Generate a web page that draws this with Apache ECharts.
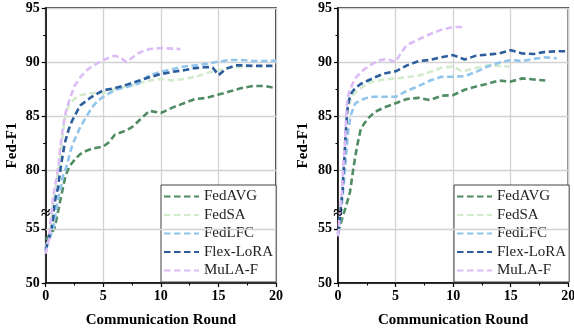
<!DOCTYPE html>
<html>
<head>
<meta charset="utf-8">
<script src="https://cdn.jsdelivr.net/npm/echarts@6.0.0/dist/echarts.min.js"></script>
<style>
html,body{margin:0;padding:0;background:#fff;}
#main{width:574px;height:333px;}
</style>
</head>
<body>
<div id="main"></div>
<script>
// ---- data (round, Fed-F1) ----
const methods = ['FedAVG', 'FedSA', 'FedLFC', 'Flex-LoRA', 'MuLA-F'];
const colors = ['#4f8c63', '#d3ebcd', '#92c5ec', '#2c5d9c', '#dcbcf7'];

const yTicks = [50, 55, 80, 85, 90, 95];
const xTicks = [0, 5, 10, 15, 20];
const breakStart = 55;
const breakEnd = 74.6;
const breakMarkValue = 76;

// left panel
const leftFedAVG = [[0,54.0],[0.75,55.0],[0.92,75.4],[1.13,76.5],[1.3,77.4],[1.5,78.4],[1.72,79.5],[2.08,80.4],[2.6,81.1],[3,81.5],[3.5,81.8],[4,82.0],[5,82.2],[5.5,82.6],[6,83.3],[7,83.7],[7.5,84.0],[8,84.5],[9,85.5],[10,85.3],[11,85.8],[12,86.2],[13,86.6],[14,86.7],[15,87.0],[16,87.3],[17,87.6],[18,87.8],[19,87.8],[20,87.6]];
const leftFedSA = [[0,53.2],[0.42,55.0],[0.5,75.4],[0.6,76.5],[0.7,77.4],[0.85,78.4],[1.02,79.5],[1.18,80.6],[1.3,81.6],[1.42,82.8],[1.6,84.3],[1.8,85.4],[2,86.0],[2.5,86.6],[3,86.95],[4,87.15],[5,87.15],[6,87.5],[7,87.75],[8,88.0],[9,88.3],[10,88.45],[11,88.3],[12,88.45],[13,88.65],[14,89.0],[15,89.25],[16,89.5],[17,89.55],[17.5,89.55]];
const leftFedLFC = [[0,53.2],[0.65,55.0],[0.78,75.4],[0.92,76.5],[1.07,77.4],[1.3,78.4],[1.5,79.5],[1.88,80.6],[2.08,81.55],[2.37,82.5],[3,84.0],[3.5,84.9],[4,85.8],[4.5,86.4],[5,86.8],[6,87.4],[7,87.7],[8,88.0],[9,88.8],[10,89.1],[11,89.35],[12,89.6],[13,89.7],[14,89.85],[15,90.05],[16,90.2],[17,90.2],[18,90.1],[19,90.1],[20,90.15]];
const leftFlexLoRA = [[0,53.0],[0.5,55.0],[0.63,75.4],[0.72,76.5],[0.84,77.4],[1.07,78.4],[1.2,79.5],[1.35,80.6],[1.5,81.55],[1.65,82.5],[2,83.8],[2.3,84.6],[3,86.0],[4,86.8],[5,87.4],[6,87.6],[7,87.9],[8,88.25],[9,88.6],[10,88.9],[11,89.1],[12,89.25],[13,89.45],[14,89.55],[14.5,89.5],[15,88.8],[15.7,89.4],[16.5,89.7],[17,89.7],[18,89.65],[19,89.65],[20,89.65]];
const leftMuLAF = [[0,52.7],[0.29,54.1],[0.36,55.0],[0.43,75.4],[0.55,76.5],[0.63,77.4],[0.78,78.4],[0.98,79.5],[1.13,80.6],[1.25,82.0],[1.5,84.0],[1.75,85.4],[2,86.3],[2.5,87.8],[3,88.6],[3.5,89.2],[4,89.6],[4.5,89.9],[5,90.2],[5.5,90.4],[6,90.6],[6.5,90.4],[7,90.0],[7.5,90.4],[8,90.8],[8.5,91.05],[9,91.2],[10,91.3],[11,91.25],[11.7,91.2]];

// right panel
const rightFedAVG = [[0,54.6],[0.1,55.0],[0.32,75.4],[0.52,76.1],[0.75,76.9],[1.04,78.0],[1.19,79.1],[1.35,80.3],[1.65,82.2],[1.95,83.7],[2.25,84.3],[2.7,84.9],[3.2,85.4],[4,85.8],[5,86.2],[6,86.6],[7,86.7],[8,86.5],[9,86.9],[10,86.95],[11,87.45],[12,87.75],[13,88.0],[14,88.3],[15,88.2],[16,88.5],[17,88.4],[18,88.3]];
const rightFedSA = [[0,54.5],[0.1,55.0],[0.14,75.4],[0.22,76.1],[0.31,77.2],[0.4,78.1],[0.46,79.5],[0.6,82.5],[0.75,84.8],[0.9,85.8],[1.2,86.8],[1.5,87.2],[2,87.6],[2.5,88.0],[3,88.2],[3.5,88.3],[4,88.4],[5,88.5],[6,88.6],[7,88.75],[8,89.1],[9,89.5],[10,89.6],[10.7,89.2],[11,89.2],[12,89.45],[13,89.7],[14,89.65],[14.9,89.6]];
const rightFedLFC = [[0,54.5],[0.12,55.0],[0.18,75.4],[0.26,76.1],[0.36,77.2],[0.45,78.1],[0.52,79.0],[0.75,82.0],[0.9,83.8],[1.1,85.1],[1.5,86.2],[2,86.5],[2.5,86.7],[3,86.8],[4,86.8],[5,86.8],[6,87.35],[7,87.8],[8,88.3],[9,88.65],[10,88.65],[11,88.7],[12,89.1],[13,89.6],[14,89.95],[15,90.2],[16,90.1],[17,90.3],[18,90.45],[19,90.35]];
const rightFlexLoRA = [[0,54.6],[0.08,55.0],[0.13,75.4],[0.2,76.1],[0.3,77.2],[0.4,78.1],[0.45,79.4],[0.52,80.5],[0.65,83.0],[0.8,85.5],[0.95,86.5],[1.2,87.2],[1.5,87.6],[2,88.0],[3,88.5],[4,88.95],[5,89.15],[6,89.7],[7,90.1],[8,90.2],[9,90.45],[10,90.65],[11,90.25],[12,90.6],[13,90.7],[14,90.8],[15,91.1],[16,90.8],[17,90.75],[18,90.95],[19,91.0],[20,91.0]];
const rightMuLAF = [[0,54.3],[0.06,55.0],[0.1,75.4],[0.17,76.1],[0.26,77.2],[0.35,78.1],[0.4,79.4],[0.46,80.3],[0.52,81.4],[0.6,82.3],[0.7,84.8],[0.8,86.5],[1.0,87.4],[1.5,88.5],[2,89.1],[2.5,89.5],[3,89.85],[3.5,90.15],[4,90.25],[4.5,90.2],[5,90.0],[5.5,90.9],[6,91.6],[7,92.1],[8,92.6],[9,93.0],[10,93.25],[10.8,93.25]];

const leftData = [leftFedAVG, leftFedSA, leftFedLFC, leftFlexLoRA, leftMuLAF];
const rightData = [rightFedAVG, rightFedSA, rightFedLFC, rightFlexLoRA, rightMuLAF];

// ---- chart ----
const FONT = 'Liberation Serif, Times New Roman, serif';
const GRID_GRAY = '#d2d2d2';
const chart = echarts.init(document.getElementById('main'));

function xAxisCfg(gi) {
  return {
    type: 'value', gridIndex: gi, min: 0, max: 20, interval: 5,
    name: 'Communication Round', nameLocation: 'middle', nameGap: 30,
    nameTextStyle: {fontFamily: FONT, fontWeight: 'bold', fontSize: 15, color: '#000'},
    axisLine: {show: true, onZero: false, lineStyle: {color: '#000', width: 1.5}},
    axisTick: {show: true, inside: false, length: 4, lineStyle: {color: '#000', width: 1.2}},
    minorTick: {show: true, splitNumber: 2, length: 2.5, lineStyle: {color: '#000', width: 1}},
    splitLine: {show: true, lineStyle: {color: GRID_GRAY, width: 1.3}},
    axisLabel: {fontFamily: FONT, fontWeight: 'bold', fontSize: 14, color: '#000', margin: 6, hideOverlap: false,
      formatter: v => (xTicks.indexOf(v) >= 0 ? String(v) : '')}
  };
}
function yAxisCfg(gi, gap) {
  return {
    type: 'value', gridIndex: gi, min: 50, max: 95, interval: 5,
    breaks: [{start: breakStart, end: breakEnd, gap: 0}],
    breakArea: {show: false},
    breakLabelLayout: {moveOverlap: false},
    name: 'Fed-F1', nameLocation: 'middle', nameGap: gap, nameRotate: 90,
    nameTextStyle: {fontFamily: FONT, fontWeight: 'bold', fontSize: 15, color: '#000'},
    axisLine: {show: true, lineStyle: {color: '#000', width: 1.5}},
    axisTick: {show: true, inside: false, length: 4, lineStyle: {color: '#000', width: 1.2}},
    minorTick: {show: true, splitNumber: 2, length: 2.5, lineStyle: {color: '#000', width: 1}},
    splitLine: {show: true, lineStyle: {color: GRID_GRAY, width: 1.3}},
    axisLabel: {fontFamily: FONT, fontWeight: 'bold', fontSize: 14, color: '#000', margin: 6, hideOverlap: false,
      showMinLabel: true, showMaxLabel: true,
      formatter: v => (yTicks.indexOf(Math.round(v * 100) / 100) >= 0 ? String(Math.round(v)) : '')}
  };
}
function legendCfg(left) {
  return {
    orient: 'vertical', left: left, top: 185,
    data: methods,
    itemWidth: 35, itemHeight: 14, itemGap: 3.5,
    padding: [4, 3, 4, 2],
    backgroundColor: '#fff', borderColor: '#444', borderWidth: 1,
    selectedMode: false,
    itemStyle: {opacity: 0},
    textStyle: {fontFamily: FONT, fontSize: 15, color: '#222'}
  };
}

const series = [];
[leftData, rightData].forEach((set, gi) => {
  set.forEach((d, i) => {
    const s = {
      type: 'line', name: methods[i], xAxisIndex: gi, yAxisIndex: gi,
      data: d, symbol: 'none', smooth: false, z: 3 + (i === 1 ? 0 : 1),
      lineStyle: {color: colors[i], width: 2.6, type: [6.5, 3.5]},
      itemStyle: {color: colors[i]}
    };
    if (i === 1) {
      // grid line at the lower break boundary (55)
      s.markLine = {silent: true, symbol: 'none', animation: false, label: {show: false},
        lineStyle: {color: GRID_GRAY, width: 1.3, type: 'solid'},
        data: [{yAxis: breakStart}]};
    }
    series.push(s);
  });
});

const gridBase = {top: 8, bottom: 50, show: true, borderColor: '#000', borderWidth: 1.5,
  backgroundColor: 'transparent', containLabel: false, outerBoundsMode: 'none'};
const option = {
  backgroundColor: '#fff',
  animation: false,
  grid: [
    Object.assign({left: 45.7, right: 298}, gridBase),
    Object.assign({left: 338, right: 5.7}, gridBase)
  ],
  xAxis: [xAxisCfg(0), xAxisCfg(1)],
  yAxis: [yAxisCfg(0, 26), yAxisCfg(1, 27)],
  legend: [legendCfg(161), legendCfg(454)],
  series: series
};
chart.setOption(option);

// axis-break marks on the y axes
const marks = [0, 1].map(gi => {
  const px = chart.convertToPixel({xAxisIndex: gi, yAxisIndex: gi}, [0, breakMarkValue]);
  return {
    type: 'text', x: px[0], y: px[1], z: 100,
    style: {text: '≈', font: 'bold 17px ' + FONT, fill: '#000', align: 'center', verticalAlign: 'middle'}
  };
});
chart.setOption({graphic: marks});
</script>
</body>
</html>
